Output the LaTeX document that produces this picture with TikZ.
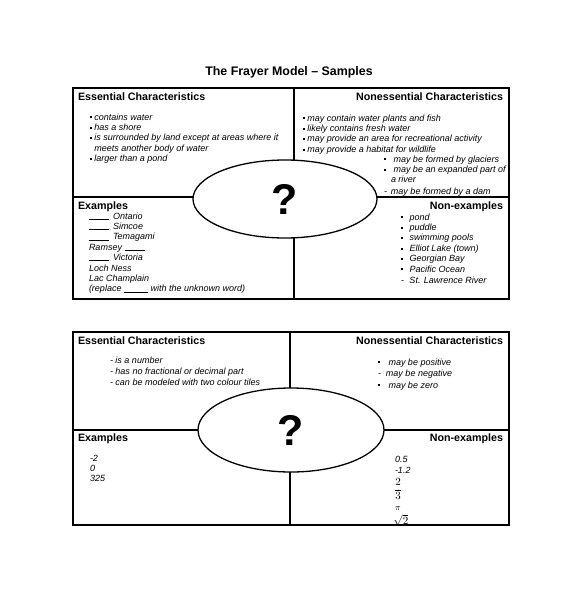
\documentclass[tikz,border=0pt]{standalone}
\usepackage{amsmath}
\usepackage{fontspec}
\setmainfont{Liberation Sans}
\usetikzlibrary{shapes.geometric}

\newcommand{\sq}[1][2.4pt]{\rule[1.6pt]{2pt}{2pt}\hspace{#1}}
\newcommand{\blank}[1][20pt]{\rule[-0.4pt]{#1}{0.6pt}}

\begin{document}
\begin{tikzpicture}[x=1pt,y=-1pt,line width=2pt]
\tikzstyle{oval}=[ellipse,draw,fill=white,line width=1.3pt,inner sep=0pt,font=\fontsize{43}{43}\selectfont\bfseries]
\tikzstyle{head}=[inner sep=0pt,font=\fontsize{10.7}{12}\selectfont\bfseries]
\tikzstyle{list}=[inner sep=0pt,align=left,font=\fontsize{9}{10.4}\selectfont\itshape]
\useasboundingbox (0,0) rectangle (585,595);

\node[inner sep=0pt,font=\fontsize{12.4}{14}\selectfont\bfseries] (T) at (289,72.5) {The Frayer Model – Samples};

% lakes (lists are placed by the baseline of their last line)
\draw (73,88) rectangle (509,299);
\draw (294,88) -- (294,299);
\draw (73,197) -- (509,197);
\node[oval,minimum width=184,minimum height=78] (Q1) at (285,199) {?};

\node[head,anchor=base west] (EC1) at (77,100) {Essential Characteristics};
\node[head,anchor=base east] (NC1) at (504,100) {Nonessential Characteristics};
\node[head,anchor=base west] (EX1) at (77,209) {Examples};
\node[head,anchor=base east] (NX1) at (504,209) {Non-examples};

\node[list,anchor=base west] (ECL1) at (89,161.6) {\sq contains water\\ \sq has a shore\\
  \sq is surrounded by land except at areas where it\\ \hspace*{4.4pt}meets another body of water\\
  \sq larger than a pond};
\node[list,anchor=base west] (NCL1) at (302,152.2) {\sq may contain water plants and fish\\
  \sq likely contains fresh water\\ \sq may provide an area for recreational activity\\
  \sq may provide a habitat for wildlife};
\node[list,anchor=base west] (NCS1) at (383,194.2) {\sq[5pt] may be formed by glaciers\\
  \sq[5pt] may be an expanded part of\\ \hspace*{7pt}a river\\[1pt]
  -\hspace{4pt}may be formed by a dam};
\node[list,anchor=base west] (EXL1) at (88,291.8) {\blank\hspace{4pt}Ontario\\ \blank\hspace{4pt}Simcoe\\
  \blank\hspace{4pt}Temagami\\ Ramsey \blank\\ \blank\hspace{4pt}Victoria\\ Loch Ness\\
  Lac Champlain\\ (replace \blank[24pt] with the unknown word)};
\node[list,anchor=base west] (NXL1) at (400,283.9) {\sq[4pt] pond\\ \sq[4pt] puddle\\
  \sq[4pt] swimming pools\\ \sq[4pt] Elliot Lake (town)\\ \sq[4pt] Georgian Bay\\
  \sq[4pt] Pacific Ocean\\[1.5pt] -\hspace{3pt} St. Lawrence River};

% integers
\draw (73,332) rectangle (509,525);
\draw (290,332) -- (290,525);
\draw (73,430) -- (509,430);
\node[oval,minimum width=186,minimum height=84] (Q2) at (291,430) {?};

\node[head,anchor=base west] (EC2) at (77,344) {Essential Characteristics};
\node[head,anchor=base east] (NC2) at (504,344) {Nonessential Characteristics};
\node[head,anchor=base west] (EX2) at (77,441) {Examples};
\node[head,anchor=base east] (NX2) at (504,441) {Non-examples};

\node[list,font=\fontsize{9}{11}\selectfont\itshape,anchor=base west] (ECL2) at (109,385)
  {- is a number\\ - has no fractional or decimal part\\ - can be modeled with two colour tiles};
\node[list,font=\fontsize{9}{11.5}\selectfont\itshape,anchor=base west] (NCL2) at (377,388)
  {\sq[6pt] may be positive\\ -\hspace{5pt}may be negative\\ \sq[6pt] may be zero};
\node[list,font=\fontsize{9}{10}\selectfont\itshape,anchor=base west] (EXL2) at (89,481) {-2\\ 0\\ 325};
\node[list,font=\fontsize{9}{11}\selectfont\itshape,anchor=base west] (NXL2) at (394,473.5) {0.5\\ -1.2};
\node[inner sep=0pt,font=\fontsize{11}{13}\selectfont] (F23) at (398,489) {$\dfrac{2}{3}$};
\node[inner sep=0pt,font=\fontsize{9.5}{12}\selectfont,anchor=base west] (PI) at (394,510) {$\pi$};
\node[inner sep=0pt,font=\fontsize{10.5}{12}\selectfont] (R2) at (401,520) {$\sqrt{2}$};
\end{tikzpicture}
\end{document}
